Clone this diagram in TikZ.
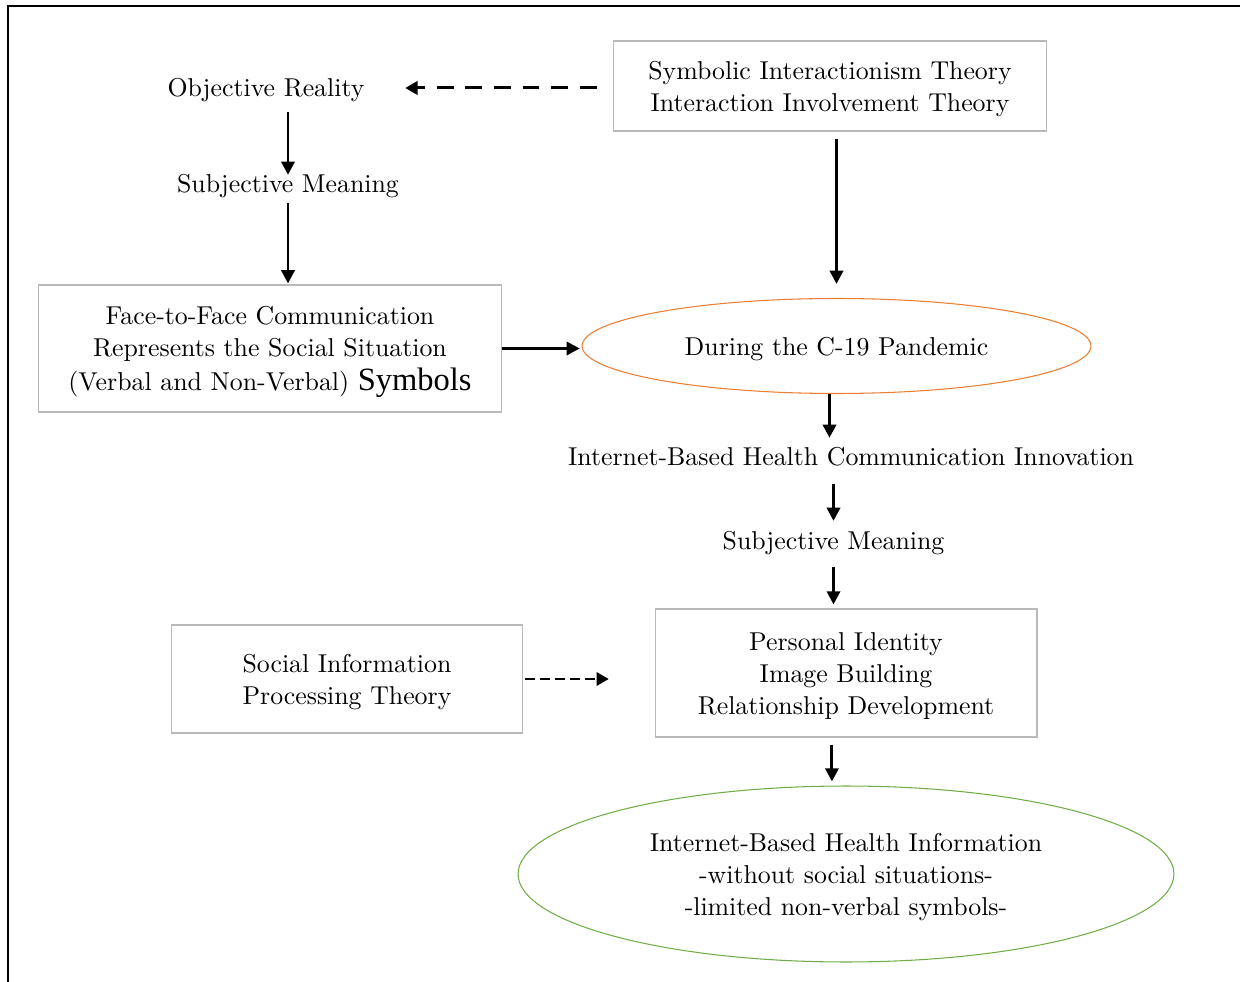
\documentclass[tikz,border=0pt]{standalone}
\usepackage{fontspec}
\setmainfont{lmroman10-regular.otf}[BoldFont=lmroman10-bold.otf,ItalicFont=lmroman10-italic.otf]
\newfontfamily\symbolsfont{LiberationSerif-Regular.ttf}
\usepackage{xcolor}
\usepackage{tikz}
\usetikzlibrary{positioning}
\usetikzlibrary{arrows.meta}
\usetikzlibrary{shapes.geometric}
\definecolor{boxgray}{RGB}{185,185,185}
\definecolor{ellorange}{RGB}{237,125,49}
\definecolor{ellgreen}{RGB}{112,173,71}
\newcommand{\upstrut}{\rule{0pt}{14pt}}
\tikzset{
    base font/.style={font=\fontsize{14.7}{18.2}\selectfont},
    plain text/.style={base font,inner sep=0pt,text height=12.3pt,text depth=2.2pt},
    theory box/.style={base font,draw=boxgray,line width=0.6pt,align=center,inner sep=0pt},
    orange ellipse/.style={base font,ellipse,draw=ellorange,line width=0.6pt,inner sep=0pt,align=center},
    green ellipse/.style={base font,ellipse,draw=ellgreen,line width=0.6pt,inner sep=0pt,align=center},
    flow arrow/.style={-{Triangle[length=7.5pt,width=7.5pt]},line width=1.7pt},
    dash arrow/.style={-{Triangle[length=7pt,width=7.5pt]},line width=1.7pt,dash pattern=on 9.5pt off 6.8pt},
    short dash arrow/.style={-{Triangle[length=7pt,width=7.5pt]},line width=1.7pt,dash pattern=on 5.5pt off 3pt}
}

\begin{document}
\begin{tikzpicture}[x=0.02cm,y=-0.02cm]
    \useasboundingbox (0,0) rectangle (1240,982);
    % frame
    \draw[line width=1.2pt] (8,982) -- (8,6) -- (1240,6);

    % nodes
    \node(obj)[plain text] at (266,88) {Objective Reality};
    \node(sym)[theory box,minimum width=8.68cm,minimum height=1.8cm] at (830,86)
        {\upstrut Symbolic Interactionism Theory\\Interaction Involvement Theory};
    \node(subj1)[plain text] at (288,184) {Subjective Meaning};
    \node(face)[theory box,minimum width=9.28cm,minimum height=2.54cm] at (270,348.5)
        {\upstrut Face-to-Face Communication\\Represents the Social Situation\\[1pt]
         (Verbal and Non-Verbal) {\symbolsfont\fontsize{18.5}{18.5}\selectfont Symbols}};
    \node(pand)[orange ellipse,minimum width=10.18cm,minimum height=1.9cm] at (836.5,346)
        {\upstrut During the C-19 Pandemic};
    \node(inno)[plain text] at (851,457) {Internet-Based Health Communication Innovation};
    \node(subj2)[plain text] at (833.5,541) {Subjective Meaning};
    \node(sip)[theory box,minimum width=7.04cm,minimum height=2.16cm] at (347,679)
        {\upstrut Social Information\\Processing Theory};
    \node(pers)[theory box,minimum width=7.64cm,minimum height=2.56cm] at (846,673)
        {\upstrut Personal Identity\\Image Building\\Relationship Development};
    \node(info)[green ellipse,minimum width=13.12cm,minimum height=3.52cm] at (846,874)
        {\upstrut Internet-Based Health Information\\-without social situations-\\-limited non-verbal symbols-};

    % connectors
    \draw[dash arrow,shorten <=9pt,shorten >=23pt] (sym.west |- obj.east) -- (obj.east);
    \draw[flow arrow,shorten <=6.4pt,shorten >=-2.2pt] (obj.south -| subj1.north) -- (subj1.north);
    \draw[flow arrow,shorten <=3.5pt,shorten >=0.6pt] (subj1.south) -- (subj1.south |- face.north);
    \draw[flow arrow,shorten >=1pt] (face.east) -- (face.east -| pand.west);
    \draw[flow arrow,shorten <=4.5pt,shorten >=8pt] (pand.north |- sym.south) -- (pand.north);
    \draw[flow arrow,shorten >=3.5pt] ([xshift=-4pt]pand.south) -- ([xshift=-4pt]pand.south |- inno.north);
    \draw[flow arrow,shorten <=8pt,shorten >=4pt] (subj2.north |- inno.south) -- (subj2.north);
    \draw[flow arrow,shorten <=7.5pt,shorten >=2.3pt] (subj2.south) -- (subj2.south |- pers.north);
    \draw[short dash arrow,shorten <=1pt,shorten >=26pt] (sip.east) -- (sip.east -| pers.west);
    \draw[flow arrow,shorten <=4pt,shorten >=2.3pt] ([xshift=-8pt]pers.south) -- ([xshift=-8pt]pers.south |- info.north);
\end{tikzpicture}
\end{document}
